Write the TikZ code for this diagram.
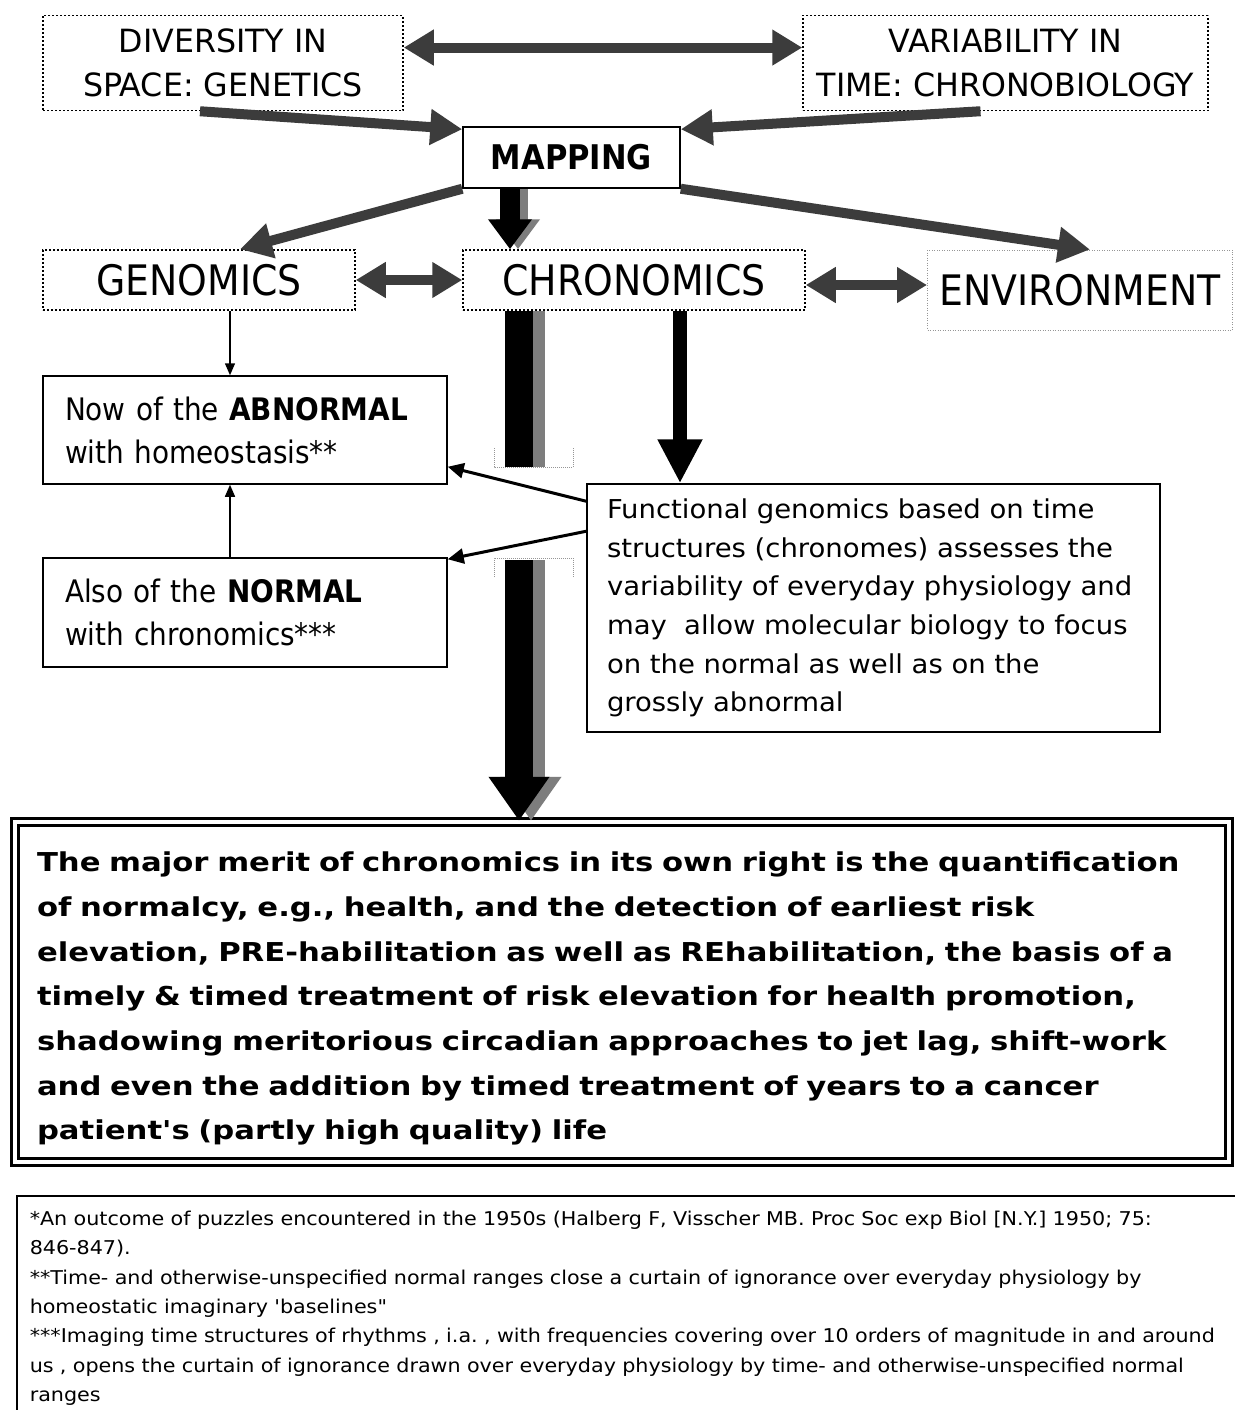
\documentclass[tikz,border=0pt]{standalone}
\usepackage{fontspec}
\setmainfont{DejaVu Sans}
\newfontfamily\condfont{DejaVu Sans Condensed}
\newfontfamily\capsfont{DejaVu Sans Condensed}[FakeStretch=1.1]
\newfontfamily\widefont{DejaVu Sans Condensed}[FakeStretch=1.175]
\newfontfamily\meritfont{DejaVu Sans}[FakeStretch=1.18]
\newfontfamily\notefont{DejaVu Sans Condensed}[FakeStretch=1.21]
\usepackage{xcolor}
\usetikzlibrary{arrows.meta,positioning,calc}
\definecolor{arrowGray}{RGB}{60,60,60}
\definecolor{shadeGray}{RGB}{125,125,125}
\definecolor{frameGray}{RGB}{150,150,150}

\begin{document}
\begin{tikzpicture}[x=1pt,y=-1pt,>=Latex,
  dotbox/.style={draw,dash pattern=on 1.6pt off 2.4pt,line width=1.5pt,align=center},
  solidbox/.style={draw,line width=1.5pt},
  grayarrow/.style={-{Triangle[length=32pt,width=34pt]},line width=10pt,color=arrowGray},
  grayboth/.style={{Triangle[length=30pt,width=34pt]}-{Triangle[length=30pt,width=34pt]},line width=10pt,color=arrowGray},
  thinarrow/.style={-{Triangle[length=12pt,width=10pt]},line width=1.5pt},
  midarrow/.style={-{Triangle[length=16pt,width=15pt]},line width=3pt}]
\useasboundingbox (0,0) rectangle (1234,1410);
\fill[white] (0,0) rectangle (1234,1410);

% top row
\node[dotbox,minimum width=360pt,minimum height=95pt,font=\capsfont\fontsize{32}{44}\selectfont] (diversity) at (223,63) {DIVERSITY IN\\SPACE: GENETICS};
\node[dotbox,minimum width=405pt,minimum height=95pt,font=\capsfont\fontsize{32}{44}\selectfont] (variability) at (1005.5,63) {VARIABILITY IN\\TIME: CHRONOBIOLOGY};
\node[solidbox,minimum width=217pt,minimum height=61pt,font=\condfont\bfseries\fontsize{34}{40}\selectfont] (mapping) at (571.5,157.5) {MAPPING};

% middle row
\node[dotbox,minimum width=312pt,minimum height=60pt,font=\condfont\fontsize{42}{48}\selectfont] (genomics) at (199,280) {GENOMICS};
\node[dotbox,minimum width=342pt,minimum height=60pt,font=\condfont\fontsize{42}{48}\selectfont] (chronomics) at (634,280) {CHRONOMICS};
\node[draw=frameGray,dash pattern=on 1pt off 1.5pt,line width=1pt,minimum width=305pt,minimum height=80pt,font=\condfont\fontsize{42}{48}\selectfont] (environment) at (1080,290) {ENVIRONMENT};

% left boxes and text box
\node[solidbox,minimum width=404pt,minimum height=108pt,text width=360pt,align=left,font=\condfont\fontsize{31}{43}\selectfont] (abnormal) at (245,430) {Now of the \textbf{ABNORMAL}\\with homeostasis**};
\node[solidbox,minimum width=404pt,minimum height=109pt,text width=360pt,align=left,font=\condfont\fontsize{31}{43}\selectfont] (normal) at (245,612.5) {Also of the \textbf{NORMAL}\\with chronomics***};
\node[solidbox,minimum width=573pt,minimum height=248pt,text width=533pt,align=left,font=\widefont\fontsize{26}{38.6}\selectfont] (functional) at (873.5,608) {Functional genomics based on time\\structures (chronomes) assesses the\\variability of everyday physiology and\\may\ \ allow molecular biology to focus\\on the normal as well as on the\\grossly abnormal};

% main box
\node[draw,double,double distance=4.5pt,line width=2.5pt,minimum width=1214pt,minimum height=340pt,text width=1170pt,align=left,font=\meritfont\bfseries\fontsize{26}{44.7}\selectfont] (merit) at (622,992) {\rule{0pt}{33pt}The major merit of chronomics in its own right is the quantification\\of normalcy, e.g., health, and the detection of earliest risk\\elevation, PRE-habilitation as well as REhabilitation, the basis of a\\timely \& timed treatment of risk elevation for health promotion,\\shadowing meritorious circadian approaches to jet lag, shift-work\\and even the addition by timed treatment of years to a cancer\\patient's (partly high quality) life};

% footnotes
\node[draw,line width=1.5pt,anchor=north west,inner xsep=13pt,inner ysep=15pt,minimum width=1240pt,text width=1225pt,align=left,font=\notefont\fontsize{19}{29.4}\selectfont] (notes) at (16,1195) {*An outcome of puzzles encountered in the 1950s (Halberg F, Visscher MB. Proc Soc exp Biol [N.Y.] 1950; 75:\\846-847).\\{}**Time- and otherwise-unspecified normal ranges close a curtain of ignorance over everyday physiology by\\homeostatic imaginary 'baselines"\\{}***Imaging time structures of rhythms , i.a.\ , with frequencies covering over 10 orders of magnitude in and around\\us , opens the curtain of ignorance drawn over everyday physiology by time- and otherwise-unspecified normal\\ranges\\[10pt]\mbox{}};

% gray arrows
\draw[grayboth] ($(diversity.north east)!0.34!(diversity.south east)$) -- ($(variability.north west)!0.34!(variability.south west)$);
\draw[grayarrow] ([xshift=-23pt]diversity.south) -- ([yshift=-3pt]mapping.north west);
\draw[grayarrow] ([xshift=-25pt]variability.south) -- ([yshift=-3pt]mapping.north east);
\draw[grayarrow] (mapping.south west) -- ([xshift=41pt]genomics.north);
\draw[grayarrow] (mapping.south east) -- ([xshift=10pt]environment.north);
\draw[grayboth] (genomics.east) -- (chronomics.west);
\draw[grayboth] ([yshift=-5pt]chronomics.east) -- ([yshift=5pt]environment.west);

% mapping to chronomics
\draw[-{Triangle[length=30pt,width=42pt]},line width=20pt,color=shadeGray] ([xshift=-53.5pt]mapping.south) -- ([xshift=-116pt]chronomics.north);
\draw[-{Triangle[length=30pt,width=42pt]},line width=20pt] ([xshift=-61.5pt]mapping.south) -- ([xshift=-124pt]chronomics.north);

% broad arrow down to the main box
\coordinate (gapTop) at (519,467);
\coordinate (gapBot) at (519,560);
\draw[line width=28pt,color=shadeGray] ([xshift=-103pt]chronomics.south) -- ([xshift=12pt]gapTop);
\draw[line width=28pt] ([xshift=-115pt]chronomics.south) -- (gapTop);
\draw[-{Triangle[length=44pt,width=58pt]},line width=28pt,color=shadeGray] ([xshift=12pt]gapBot) -- ([xshift=-91pt]merit.north);
\draw[-{Triangle[length=44pt,width=58pt]},line width=28pt] (gapBot) -- ([xshift=-103pt]merit.north);
\draw[densely dotted,line width=1pt,color=frameGray] (494,448) -- (494,467) -- (573,467) -- (573,448);
\draw[densely dotted,line width=1pt,color=frameGray] (494,577) -- (494,558) -- (573,558) -- (573,577);

% chronomics to functional
\draw[-{Triangle[length=44pt,width=42pt]},line width=14pt] ([xshift=46pt]chronomics.south) -- ([xshift=-193.5pt]functional.north);

% functional to left boxes
\draw[midarrow] ([yshift=-18pt]functional.north west) -- ([yshift=18pt]abnormal.south east);
\draw[midarrow] ([yshift=-48pt]functional.north west) -- ([yshift=-2pt]normal.north east);

% thin arrows
\draw[thinarrow] ([xshift=31pt]genomics.south) -- ([xshift=-15pt]abnormal.north);
\draw[thinarrow] ([xshift=-15pt]normal.north) -- ([xshift=-15pt]abnormal.south);
\end{tikzpicture}
\end{document}
